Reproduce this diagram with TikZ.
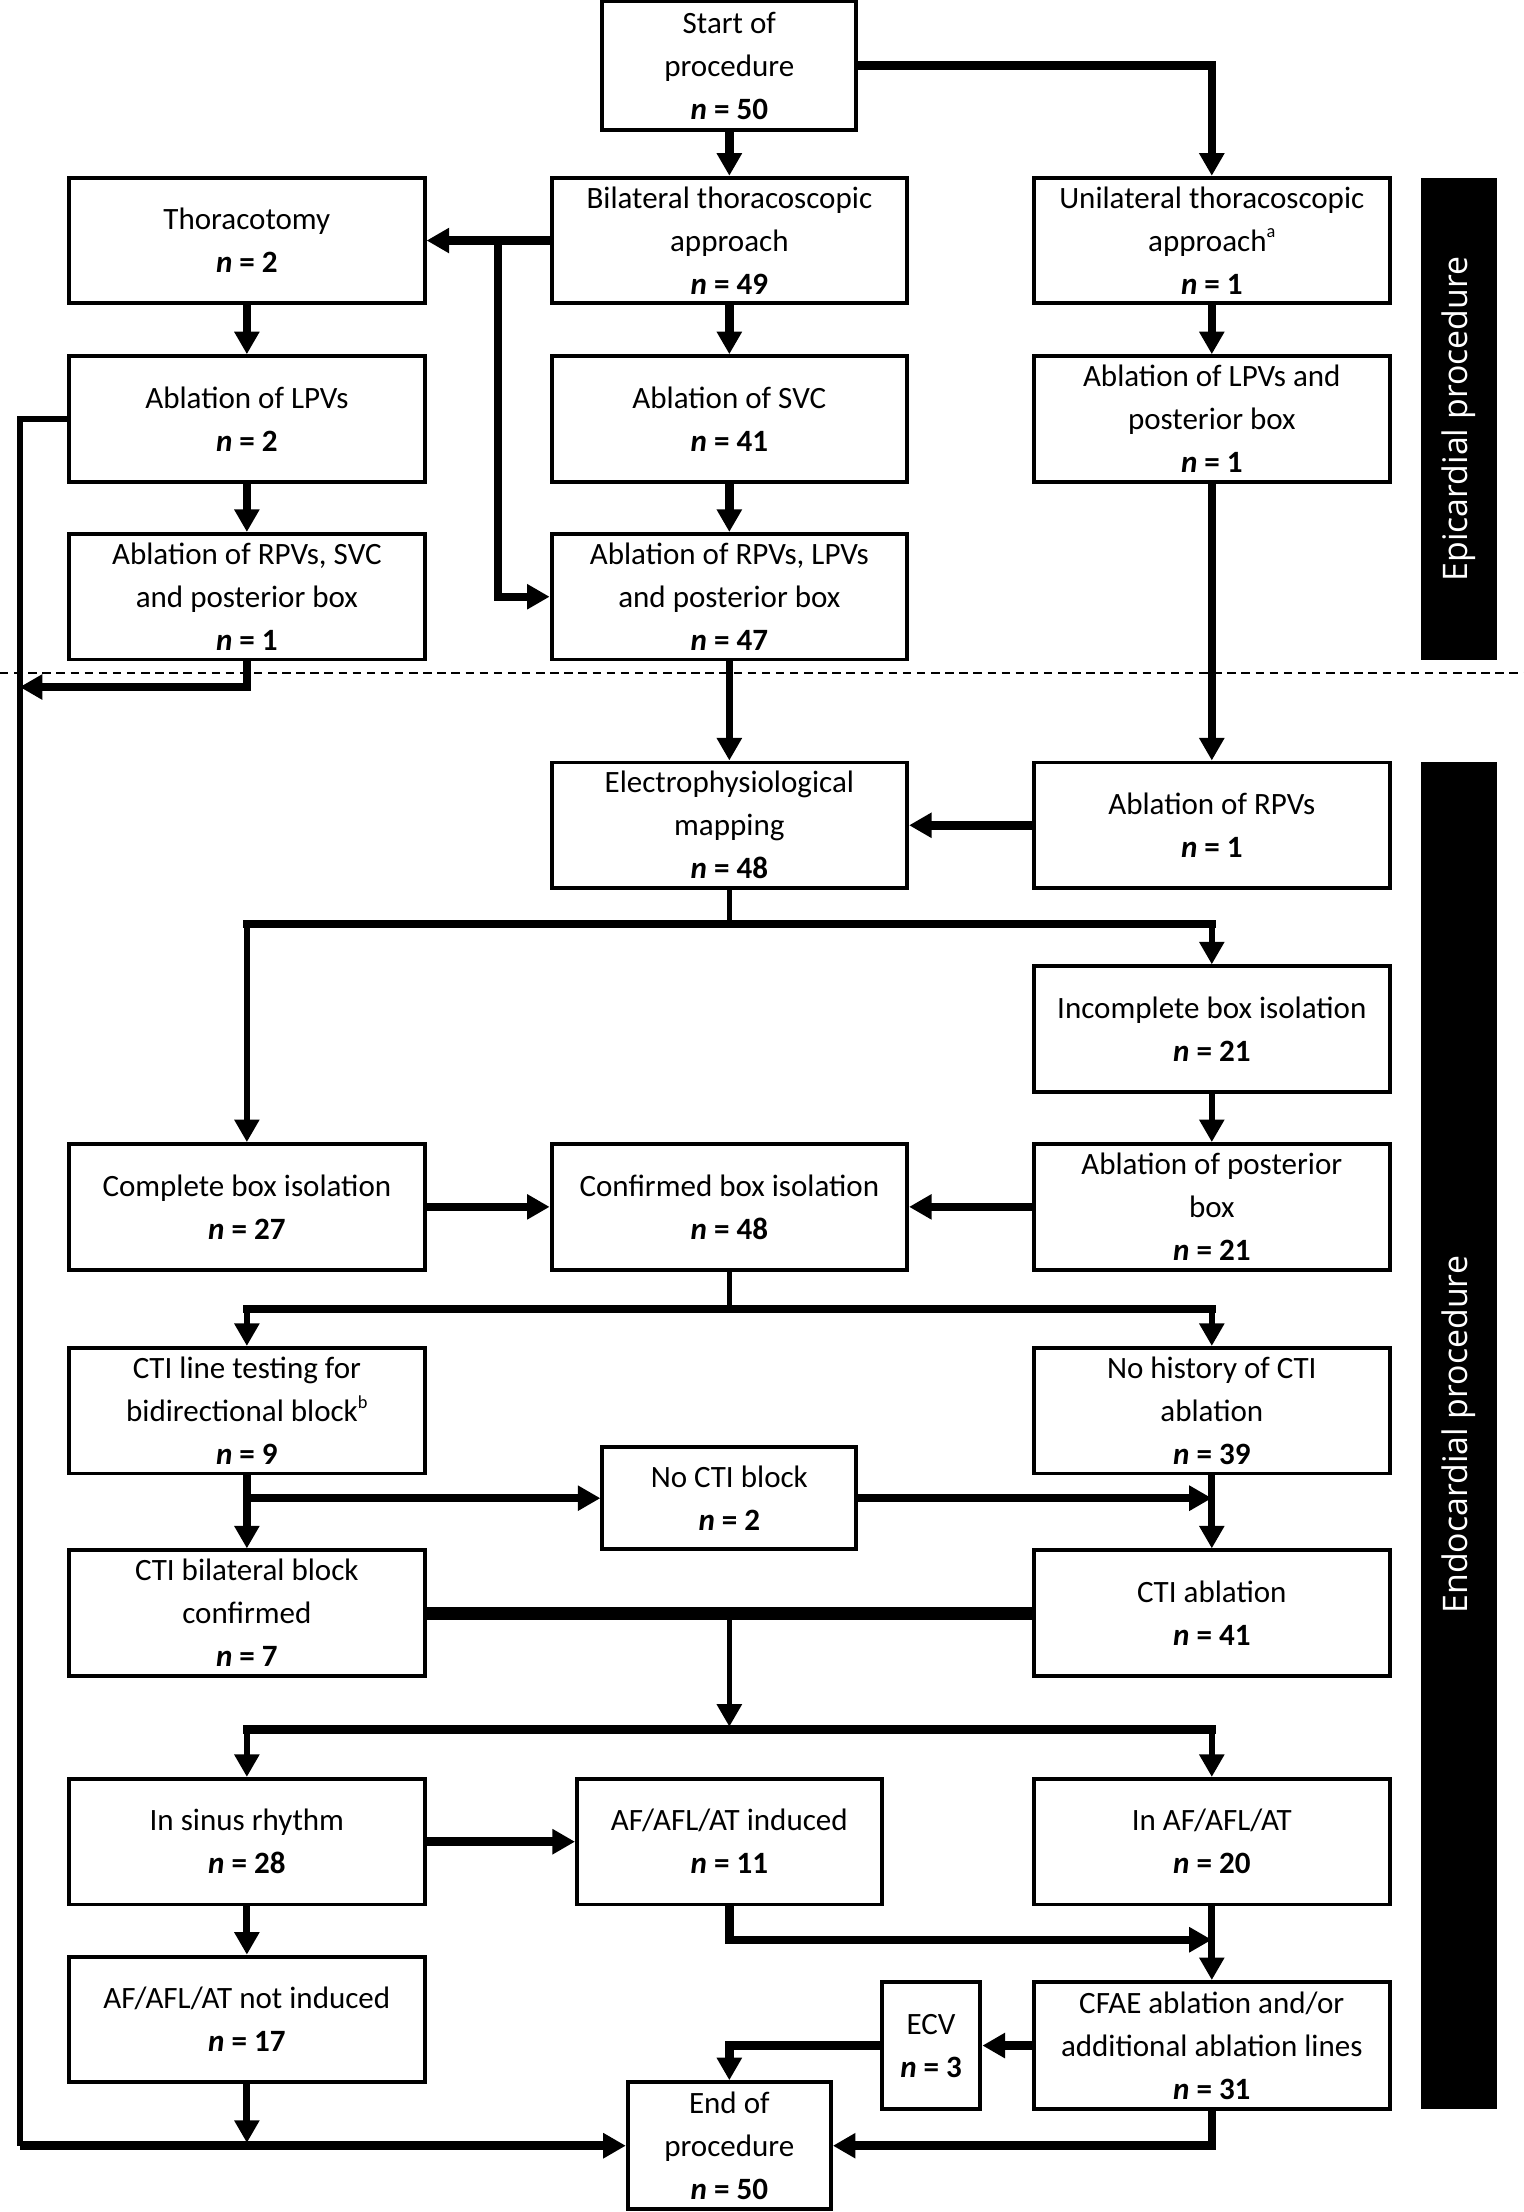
\documentclass[tikz,border=0pt]{standalone}
\usepackage{fontspec}
\setmainfont{Carlito}
\newfontfamily\barfont{Open Sans}
\usetikzlibrary{arrows.meta}
\newcommand{\nn}[1]{\textbf{\textit{n} = #1}}
\newcommand{\sups}[1]{\raisebox{0.9ex}{\fontsize{6.5}{6.5}\selectfont #1}}
\tikzset{
  box/.style={draw, line width=1.4pt, align=center, inner sep=0pt,
    font=\fontsize{11}{15.25}\selectfont, minimum width=126pt, minimum height=44.5pt},
  thk/.style={line width=3pt},
  med/.style={line width=2.5pt},
  thn/.style={line width=2pt},
  xthk/.style={line width=4.5pt},
  bartext/.style={text=white, rotate=90, font=\barfont\fontsize{12}{14}\selectfont},
  >={Triangle[length=8pt,width=8.5pt]}
}
\begin{document}
\begin{tikzpicture}[x=0.5pt,y=-0.5pt]
\useasboundingbox (0,0) rectangle (1080,1568);
% bars and separator
\fill (1007,126) rectangle (1061,468);
\fill (1007,540) rectangle (1061,1495);
\node[bartext] (epi) at (1034,297) {Epicardial procedure};
\node[bartext] (endo) at (1034,1017) {Endocardial procedure};
\coordinate (d1) at (0,477);
\coordinate (d2) at (1080,477);
\draw[line width=0.8pt, dash pattern=on 3pt off 2pt] (d1) -- (d2);
% boxes
\node[box, minimum width=90pt, minimum height=45.5pt] (start) at (517,46.5) {Start of\\procedure\\\nn{50}};
\node[box] (bil) at (517,170.5) {Bilateral thoracoscopic\\approach\\\nn{49}};
\node[box] (uni) at (859,170.5) {Unilateral thoracoscopic\\approach\sups{a}\\\nn{1}};
\node[box] (thor) at (175,170.5) {Thoracotomy\\\nn{2}};
\node[box] (lpv) at (175,297) {Ablation of LPVs\\\nn{2}};
\node[box] (svc) at (517,297) {Ablation of SVC\\\nn{41}};
\node[box] (uni2) at (859,297) {Ablation of LPVs and\\posterior box\\\nn{1}};
\node[box] (rsvc) at (175,423) {Ablation of RPVs, SVC\\and posterior box\\\nn{1}};
\node[box] (rlpv) at (517,423) {Ablation of RPVs, LPVs\\and posterior box\\\nn{47}};
\node[box] (ep) at (517,585) {Electrophysiological\\mapping\\\nn{48}};
\node[box] (arpv) at (859,585) {Ablation of RPVs\\\nn{1}};
\node[box] (inc) at (859,729.5) {Incomplete box isolation\\\nn{21}};
\node[box] (comp) at (175,855.5) {Complete box isolation\\\nn{27}};
\node[box] (conf) at (517,855.5) {Confirmed box isolation\\\nn{48}};
\node[box] (apb) at (859,855.5) {Ablation of posterior\\box\\\nn{21}};
\node[box] (ctit) at (175,1000) {CTI line testing for\\bidirectional block\sups{b}\\\nn{9}};
\node[box] (nohist) at (859,1000) {No history of CTI\\ablation\\\nn{39}};
\node[box, minimum width=90pt, minimum height=36pt] (nocti) at (517,1062) {No CTI block\\\nn{2}};
\node[box] (ctib) at (175,1143.5) {CTI bilateral block\\confirmed\\\nn{7}};
\node[box] (ctia) at (859,1143.5) {CTI ablation\\\nn{41}};
\node[box] (sinus) at (175,1305.5) {In sinus rhythm\\\nn{28}};
\node[box, minimum width=108pt] (ind) at (517,1305.5) {AF/AFL/AT induced\\\nn{11}};
\node[box] (inaf) at (859,1305.5) {In AF/AFL/AT\\\nn{20}};
\node[box] (notind) at (175,1431.5) {AF/AFL/AT not induced\\\nn{17}};
\node[box, minimum width=35pt, minimum height=45pt] (ecv) at (660,1450) {ECV\\\nn{3}};
\node[box, minimum height=45pt] (cfae) at (859,1450) {CFAE ablation and/or\\additional ablation lines\\\nn{31}};
\node[box, minimum width=72pt, minimum height=45pt] (endp) at (517,1521) {End of\\procedure\\\nn{50}};
% connectors: epicardial part
\draw[thk,->] (start.south) -- (bil.north);
\draw[thk,->] (start.east) -| (uni.north);
\draw[thk,->] (bil.west) -- (thor.east);
\coordinate (b1) at (353,170.5);
\draw[thk,->] (b1) |- (rlpv.west);
\draw[thk,->] (thor.south) -- (lpv.north);
\draw[thk,->] (lpv.south) -- (rsvc.north);
\draw[thk,->] (bil.south) -- (svc.north);
\draw[thk,->] (svc.south) -- (rlpv.north);
\draw[thk,->] (uni.south) -- (uni2.north);
\draw[thk,->] (uni2.south) -- (arpv.north);
\draw[med,->] (rlpv.south) -- (ep.north);
\coordinate (L1) at (14,297);
\coordinate (L2) at (14,1521);
\coordinate (L3) at (14,487);
\draw[thn] (lpv.west) -- (L1) -- (L2);
\draw[thk,->] (L2) -- (endp.west);
\draw[thk,->] (rsvc.south) |- (L3);
% endocardial part
\draw[thk,->] (arpv.west) -- (ep.east);
\coordinate (e0) at (517,655);
\coordinate (eL) at (175,655);
\coordinate (eR) at (859,655);
\draw[thn] (ep.south) -- (e0);
\draw[thk,line cap=rect] (eL) -- (eR);
\draw[thn,->] (eL) -- (comp.north);
\draw[thn,->] (eR) -- (inc.north);
\draw[thn,->] (inc.south) -- (apb.north);
\draw[thk,->] (comp.east) -- (conf.west);
\draw[thk,->] (apb.west) -- (conf.east);
\coordinate (c0) at (517,928);
\coordinate (cL) at (175,928);
\coordinate (cR) at (859,928);
\draw[thn] (conf.south) -- (c0);
\draw[thk,line cap=rect] (cL) -- (cR);
\draw[thn,->] (cL) -- (ctit.north);
\draw[thn,->] (cR) -- (nohist.north);
\draw[thk,->] (ctit.south) -- (ctib.north);
\coordinate (t1) at (175,1062);
\coordinate (t2) at (859,1062);
\draw[thk,->] (t1) -- (nocti.west);
\draw[thk,->] (nocti.east) -- (t2);
\draw[med,->] (nohist.south) -- (ctia.north);
\draw[xthk] (ctib.east) -- (ctia.west);
\coordinate (m0) at (517,1143.5);
\coordinate (m1) at (517,1224);
\coordinate (mL) at (175,1226);
\coordinate (mR) at (859,1226);
\draw[thn,->] (m0) -- (m1);
\draw[thk,line cap=rect] (mL) -- (mR);
\draw[thn,->] (mL) -- (sinus.north);
\draw[thn,->] (mR) -- (inaf.north);
\draw[thk,->] (sinus.east) -- (ind.west);
\draw[med,->] (sinus.south) -- (notind.north);
\coordinate (i1) at (859,1375);
\draw[thk,->] (ind.south) |- (i1);
\draw[med,->] (inaf.south) -- (cfae.north);
\draw[thk,->] (cfae.west) -- (ecv.east);
\draw[thk,->] (ecv.west) -| (endp.north);
\coordinate (n1) at (175,1519);
\draw[med,->] (notind.south) -- (n1);
\draw[thk,->] (cfae.south) |- (endp.east);
\end{tikzpicture}
\end{document}
